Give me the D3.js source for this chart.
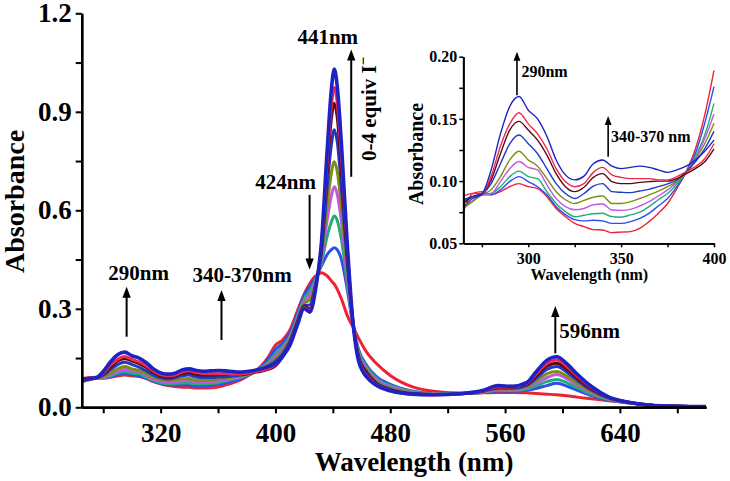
<!DOCTYPE html>
<html>
<head>
<meta charset="utf-8">
<script src="https://cdn.jsdelivr.net/npm/d3@7"></script>
<style>
  body { margin: 0; background: #fff; }
  svg { display: block; font-family: "Liberation Serif", "Times New Roman", serif; font-weight: bold; }
</style>
</head>
<body>
<div id="chart"></div>
<script>
// wavelength grid (nm)
const wavelengths = [265, 270, 275, 280, 285, 290, 295, 300, 305, 310, 315, 320, 325, 330, 335, 340, 345, 350, 355, 360,
  365, 370, 375, 380, 385, 390, 395, 400,
  405, 410, 415, 420, 424, 428, 432, 436, 439, 441, 443, 446, 450, 454, 458, 464, 470, 480, 495, 510,
  530, 545, 555, 565, 575, 582, 589, 596, 603, 610, 620, 632, 645, 660, 680, 700];

// absorbance spectra, 0 -> 4 equiv I- (one array per addition)
const abs0 = [0.0755, 0.090, 0.0915, 0.089, 0.0915, 0.0955, 0.098, 0.0955, 0.094, 0.0875, 0.078, 0.0714, 0.066, 0.0634, 0.061, 0.0607, 0.0586, 0.059, 0.0594, 0.062,
  0.0674, 0.074, 0.082, 0.094, 0.1076, 0.126, 0.153, 0.189,
  0.205, 0.235, 0.29, 0.345, 0.378, 0.40, 0.41, 0.40, 0.385, 0.375, 0.36, 0.33, 0.28, 0.245, 0.21, 0.165, 0.135, 0.097, 0.063, 0.049,
  0.043, 0.044, 0.045, 0.045, 0.044, 0.042, 0.04, 0.038, 0.035, 0.031, 0.026, 0.02, 0.014, 0.007, 0.003, 0.002];
const abs1 = [0.083, 0.0875, 0.089, 0.089, 0.093, 0.0996, 0.1036, 0.0996, 0.0955, 0.089, 0.0795, 0.073, 0.069, 0.068, 0.0685, 0.068, 0.066, 0.066, 0.0674, 0.070,
  0.0741, 0.080, 0.086, 0.0955, 0.107, 0.1223, 0.1465, 0.176,
  0.195, 0.225, 0.28, 0.34, 0.368, 0.395, 0.43, 0.465, 0.48, 0.486, 0.48, 0.45, 0.36, 0.25, 0.175, 0.125, 0.095, 0.07, 0.05, 0.043,
  0.043, 0.045, 0.05, 0.049, 0.052, 0.058, 0.066, 0.073, 0.065, 0.052, 0.036, 0.022, 0.014, 0.007, 0.003, 0.002];
const abs2 = [0.080, 0.084, 0.089, 0.090, 0.0955, 0.1036, 0.108, 0.1036, 0.102, 0.0915, 0.082, 0.0755, 0.0714, 0.0725, 0.0738, 0.0741, 0.0714, 0.071, 0.0728, 0.075,
  0.0795, 0.085, 0.090, 0.0977, 0.107, 0.1197, 0.137, 0.1625,
  0.185, 0.215, 0.272, 0.33, 0.355, 0.39, 0.44, 0.52, 0.565, 0.583, 0.57, 0.51, 0.38, 0.255, 0.17, 0.12, 0.09, 0.066, 0.048, 0.042,
  0.042, 0.046, 0.052, 0.051, 0.056, 0.066, 0.078, 0.085, 0.075, 0.06, 0.04, 0.024, 0.015, 0.007, 0.003, 0.002];
const abs3 = [0.079, 0.084, 0.089, 0.090, 0.0996, 0.110, 0.1157, 0.111, 0.109, 0.097, 0.086, 0.0795, 0.077, 0.078, 0.081, 0.0816, 0.0768, 0.0765, 0.0773, 0.080,
  0.0835, 0.088, 0.093, 0.0988, 0.107, 0.118, 0.134, 0.154,
  0.178, 0.21, 0.266, 0.322, 0.342, 0.385, 0.45, 0.57, 0.645, 0.672, 0.65, 0.565, 0.40, 0.255, 0.165, 0.115, 0.085, 0.062, 0.046, 0.041,
  0.042, 0.047, 0.054, 0.053, 0.06, 0.074, 0.09, 0.1, 0.087, 0.068, 0.045, 0.026, 0.015, 0.007, 0.003, 0.002];
const abs4 = [0.078, 0.0835, 0.089, 0.093, 0.1036, 0.117, 0.124, 0.117, 0.112, 0.102, 0.0915, 0.085, 0.082, 0.0845, 0.087, 0.088, 0.082, 0.082, 0.0835, 0.086,
  0.0889, 0.092, 0.0955, 0.0996, 0.106, 0.117, 0.130, 0.1465,
  0.17, 0.205, 0.262, 0.316, 0.328, 0.38, 0.46, 0.61, 0.715, 0.748, 0.72, 0.61, 0.42, 0.26, 0.16, 0.11, 0.08, 0.058, 0.044, 0.04,
  0.042, 0.048, 0.056, 0.055, 0.063, 0.082, 0.102, 0.109, 0.095, 0.074, 0.048, 0.027, 0.015, 0.007, 0.003, 0.002];
const abs5 = [0.079, 0.086, 0.089, 0.098, 0.114, 0.130, 0.137, 0.130, 0.122, 0.110, 0.098, 0.090, 0.086, 0.090, 0.096, 0.098, 0.0915, 0.091, 0.0907, 0.092,
  0.0934, 0.0955, 0.0977, 0.101, 0.1076, 0.1156, 0.126, 0.140,
  0.163, 0.2, 0.258, 0.31, 0.312, 0.375, 0.47, 0.67, 0.80, 0.845, 0.81, 0.67, 0.44, 0.26, 0.155, 0.105, 0.076, 0.055, 0.042, 0.039,
  0.041, 0.049, 0.058, 0.058, 0.067, 0.09, 0.115, 0.124, 0.107, 0.083, 0.053, 0.029, 0.016, 0.007, 0.003, 0.002];
const abs6 = [0.082, 0.0875, 0.090, 0.101, 0.122, 0.141, 0.148, 0.141, 0.133, 0.121, 0.106, 0.0955, 0.0915, 0.095, 0.103, 0.106, 0.0996, 0.098, 0.098, 0.099,
  0.0996, 0.100, 0.100, 0.102, 0.106, 0.110, 0.1156, 0.126,
  0.153, 0.195, 0.254, 0.306, 0.30, 0.37, 0.48, 0.72, 0.88, 0.926, 0.885, 0.72, 0.46, 0.26, 0.15, 0.1, 0.072, 0.053, 0.041, 0.038,
  0.041, 0.05, 0.06, 0.06, 0.07, 0.097, 0.125, 0.134, 0.116, 0.09, 0.057, 0.03, 0.016, 0.007, 0.003, 0.002];
const abs7 = [0.088, 0.090, 0.090, 0.104, 0.128, 0.146, 0.155, 0.146, 0.138, 0.126, 0.110, 0.0996, 0.0955, 0.098, 0.107, 0.111, 0.105, 0.103, 0.102, 0.102,
  0.102, 0.101, 0.101, 0.1036, 0.1076, 0.1116, 0.118, 0.130,
  0.155, 0.192, 0.25, 0.303, 0.295, 0.37, 0.49, 0.75, 0.92, 0.974, 0.93, 0.76, 0.48, 0.26, 0.145, 0.095, 0.07, 0.051, 0.04, 0.038,
  0.041, 0.05, 0.062, 0.062, 0.072, 0.103, 0.133, 0.144, 0.124, 0.096, 0.06, 0.031, 0.016, 0.007, 0.003, 0.002];
const abs8 = [0.085, 0.0875, 0.090, 0.109, 0.138, 0.160, 0.168, 0.157, 0.150, 0.136, 0.117, 0.105, 0.101, 0.104, 0.114, 0.117, 0.112, 0.110, 0.111, 0.112,
  0.111, 0.109, 0.107, 0.109, 0.112, 0.117, 0.124, 0.133,
  0.155, 0.188, 0.247, 0.30, 0.29, 0.36, 0.50, 0.78, 0.97, 1.03, 0.98, 0.8, 0.5, 0.26, 0.14, 0.09, 0.068, 0.05, 0.04, 0.038,
  0.042, 0.052, 0.066, 0.064, 0.075, 0.11, 0.143, 0.154, 0.133, 0.102, 0.064, 0.032, 0.016, 0.007, 0.003, 0.002];

const spectra = [abs0, abs1, abs2, abs3, abs4, abs5, abs6, abs7, abs8];
const colors = ["#ee2233", "#2a4ef0", "#1fae78", "#c455e6", "#7c8f12", "#2038c8", "#5a0818", "#f0284a", "#1c22c4"];

// axes ticks
const mainXTicks = [320, 400, 480, 560, 640];
const mainXMinor = [280, 360, 440, 520, 600, 680];
const mainYTicks = [0, 0.3, 0.6, 0.9, 1.2];
const mainYMinor = [0.15, 0.45, 0.75, 1.05];
const insetXTicks = [300, 350, 400];
const insetXMinor = [275, 325, 375];
const insetYTicks = [0.05, 0.10, 0.15, 0.20];
const insetYMinor = [0.075, 0.125, 0.175];

const width = 730, height = 481;

const svg = d3.select("#chart").append("svg")
  .attr("width", width)
  .attr("height", height);

svg.append("rect").attr("width", width).attr("height", height).attr("fill", "#fff");

// ---- main plot
const x = d3.scaleLinear().domain([265, 700]).range([81.7, 706]);
const y = d3.scaleLinear().domain([0, 1.2]).range([407.3, 13.3]);

function styleAxis(g, fontSize, lw) {
  g.select(".domain").attr("stroke", "#000").attr("stroke-width", lw);
  g.selectAll(".tick line").attr("stroke", "#000").attr("stroke-width", lw * 0.85);
  g.selectAll(".tick text").attr("fill", "#000")
    .attr("font-size", fontSize)
    .attr("font-family", "'Liberation Serif', 'Times New Roman', serif")
    .attr("font-weight", "bold");
}

const line = d3.line()
  .x(d => x(d[0]))
  .y(d => y(d[1]))
  .curve(d3.curveMonotoneX);

svg.append("g").selectAll("path")
  .data(spectra)
  .enter()
  .append("path")
  .attr("d", s => line(s.map((v, i) => [wavelengths[i], v])))
  .attr("fill", "none")
  .attr("stroke", (s, i) => colors[i])
  .attr("stroke-width", (s, i) => i === 8 ? 3.6 : 3)
  .attr("stroke-linejoin", "round");

svg.append("g")
  .attr("transform", `translate(0,${y(0)})`)
  .call(d3.axisBottom(x).tickValues(mainXMinor).tickFormat("").tickSize(6).tickSizeOuter(0))
  .call(g => styleAxis(g, 27, 2.4));
svg.append("g")
  .attr("transform", `translate(0,${y(0)})`)
  .call(d3.axisBottom(x).tickValues(mainXTicks).tickSize(6).tickPadding(10).tickSizeOuter(0))
  .call(g => styleAxis(g, 27, 2.4));

svg.append("g")
  .attr("transform", `translate(${x(265)},0)`)
  .call(d3.axisLeft(y).tickValues(mainYMinor).tickFormat("").tickSize(6).tickSizeOuter(0))
  .call(g => styleAxis(g, 27, 2.4));
svg.append("g")
  .attr("transform", `translate(${x(265)},0)`)
  .call(d3.axisLeft(y).tickValues(mainYTicks).tickFormat(d3.format(".1f")).tickSize(6).tickPadding(4).tickSizeOuter(0))
  .call(g => styleAxis(g, 27, 2.4));

svg.append("text")
  .attr("x", 414).attr("y", 471)
  .attr("text-anchor", "middle")
  .attr("font-size", 27)
  .text("Wavelength (nm)");

svg.append("text")
  .attr("transform", "translate(24,201.5) rotate(-90)")
  .attr("text-anchor", "middle")
  .attr("font-size", 28)
  .text("Absorbance");

// vertical arrow at wavelength xv, from absorbance y0 to y1 (tip)
function arrow(g, sx, sy, xv, y0, y1, lw, head) {
  const xp = sx(xv), a = sy(y0), b = sy(y1);
  const dir = b < a ? 1 : -1;
  g.append("line")
    .attr("x1", xp).attr("x2", xp)
    .attr("y1", a).attr("y2", b + dir * head * 0.9)
    .attr("stroke", "#000").attr("stroke-width", lw);
  g.append("path")
    .attr("d", `M${xp},${b} L${xp - head * 0.38},${b + dir * head} L${xp + head * 0.38},${b + dir * head} Z`)
    .attr("fill", "#000");
}

const ann = svg.append("g");
arrow(ann, x, y, 452.8, 0.702, 1.09, 2, 11);
arrow(ann, x, y, 423.8, 0.647, 0.42, 2, 11);
arrow(ann, x, y, 296.3, 0.215, 0.367, 2, 11);
arrow(ann, x, y, 362.4, 0.205, 0.357, 2, 11);
arrow(ann, x, y, 595, 0.1645, 0.3086, 2, 11);

function label(g, sx, sy, xv, yv, txt, size) {
  return g.append("text")
    .attr("x", sx(xv)).attr("y", sy(yv))
    .attr("font-size", size)
    .text(txt);
}
label(ann, x, y, 415.3, 1.108, "441nm", 21);
label(ann, x, y, 386, 0.666, "424nm", 21);
label(ann, x, y, 283.5, 0.389, "290nm", 21);
label(ann, x, y, 342.2, 0.382, "340-370nm", 21);
label(ann, x, y, 597.8, 0.2096, "596nm", 21);

const eq = ann.append("text")
  .attr("transform", `translate(${x(469.8)},${y(0.909)}) rotate(-90)`)
  .attr("text-anchor", "middle")
  .attr("font-size", 21);
eq.append("tspan").text("0-4 equiv I");
eq.append("tspan").attr("dy", -8).attr("font-size", 15).text("\u2212");

// ---- inset
const ix = d3.scaleLinear().domain([265, 400]).range([463.3, 714]);
const iy = d3.scaleLinear().domain([0.05, 0.20]).range([243.3, 56.7]);

const iline = d3.line()
  .x(d => ix(d[0]))
  .y(d => iy(d[1]))
  .curve(d3.curveMonotoneX);

const inset = svg.append("g");

inset.append("g").selectAll("path")
  .data(spectra)
  .enter()
  .append("path")
  .attr("d", s => iline(s.map((v, i) => [wavelengths[i], v]).filter(d => d[0] <= 400)))
  .attr("fill", "none")
  .attr("stroke", (s, i) => colors[i])
  .attr("stroke-width", 1.4);

inset.append("g")
  .attr("transform", `translate(0,${iy(0.05)})`)
  .call(d3.axisBottom(ix).tickValues(insetXMinor).tickFormat("").tickSize(4).tickSizeOuter(0))
  .call(g => styleAxis(g, 16, 1.8));
inset.append("g")
  .attr("transform", `translate(0,${iy(0.05)})`)
  .call(d3.axisBottom(ix).tickValues(insetXTicks).tickSize(4).tickPadding(5).tickSizeOuter(0))
  .call(g => styleAxis(g, 16, 1.8));
inset.append("g")
  .attr("transform", `translate(${ix(265)},0)`)
  .call(d3.axisLeft(iy).tickValues(insetYMinor).tickFormat("").tickSize(4).tickSizeOuter(0))
  .call(g => styleAxis(g, 16, 1.8));
inset.append("g")
  .attr("transform", `translate(${ix(265)},0)`)
  .call(d3.axisLeft(iy).tickValues(insetYTicks).tickFormat(d3.format(".2f")).tickSize(4).tickPadding(2).tickSizeOuter(0))
  .call(g => styleAxis(g, 16, 1.8));

inset.append("text")
  .attr("x", 589.3).attr("y", 280)
  .attr("text-anchor", "middle")
  .attr("font-size", 16)
  .text("Wavelength (nm)");
inset.append("text")
  .attr("transform", "translate(423,154) rotate(-90)")
  .attr("text-anchor", "middle")
  .attr("font-size", 20)
  .text("Absorbance");

arrow(inset, ix, iy, 293.9, 0.169, 0.204, 1.6, 9);
arrow(inset, ix, iy, 343, 0.1196, 0.1523, 1.6, 9);
label(inset, ix, iy, 296.3, 0.1833, "290nm", 16);
label(inset, ix, iy, 344.5, 0.1317, "340-370 nm", 16);
</script>
</body>
</html>
